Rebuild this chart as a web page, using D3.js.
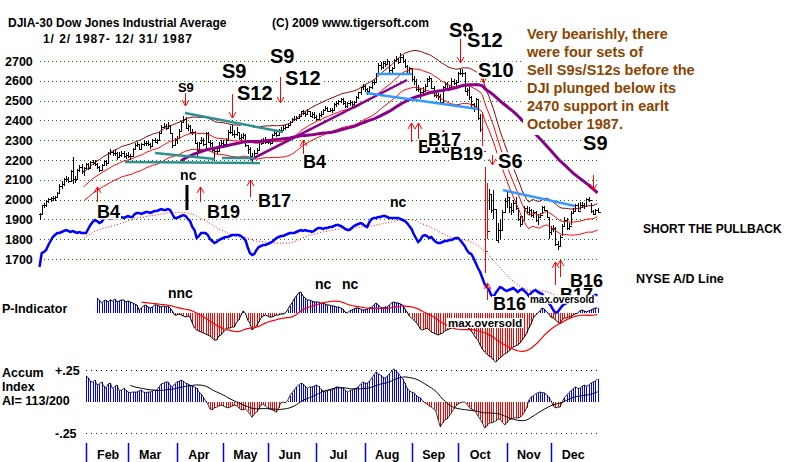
<!DOCTYPE html>
<html><head><meta charset="utf-8">
<script src="https://cdn.jsdelivr.net/npm/d3@7"></script>
<style>body{margin:0;background:#fff}svg{display:block}text{font-family:"Liberation Sans",Arial,sans-serif;font-weight:bold}</style>
</head><body><svg id="c" width="800" height="462"></svg>
<script>
// ---------- DATA ----------
const closes = [
1927,1971,1975,1994,2002,2006,2009,2013,2035,2070,2077,2102,2104,2094,2146,2102,2102,2150,2163,2146,2158,
2179,2158,2191,2186,2180,2167,2151,2177,2193,2183,2237,2238,2236,2235,2217,2227,2237,2222,2224,
2220,2220,2258,2276,2280,2258,2280,2287,2286,2281,2269,2301,2293,2299,2334,2369,2373,2363,2372,2335,2278,2305,
2313,2348,2390,2406,2360,2371,2339,2339,2287,2252,2286,2301,2283,2337,2292,2285,2250,2243,2245,2275,2286,
2280,2300,2342,2342,2333,2329,2340,2311,2318,2324,2275,2254,2221,2211,2236,2250,2292,2287,2300,2291,
2293,2287,2326,2338,2326,2351,2353,2360,2368,2377,2391,2408,2407,2413,2420,2445,2436,2430,2446,2423,2433,2418,
2409,2429,2430,2452,2464,2449,2455,2453,2482,2486,2496,2510,2487,2475,2488,2493,2485,2492,2519,2541,2567,2572,
2557,2546,2567,2594,2592,2636,2681,2669,2691,2685,2700,2655,2665,2706,2709,2697,2722,2701,2676,2639,2663,
2610,2599,2561,2561,2545,2549,2576,2608,2613,2566,2530,2527,2524,2493,2568,2585,2566,2570,2601,2590,2596,
2639,2641,2640,2549,2552,2517,2482,2472,2508,2413,2356,2246,1739,1841,2028,1950,1951,1794,1846,1847,1938,1994,
2014,1963,1945,1985,1959,1900,1878,1899,1960,1935,1949,1922,1939,1895,1913,1923,1963,1947,1911,1834,
1849,1857,1777,1767,1812,1868,1898,1855,1867,1932,1943,1974,1941,1975,1974,1969,2005,1996,1942,1926,1950,1938];
const highs = [
1930,1975,1985,1998,2010,2015,2020,2020,2040,2080,2095,2110,2120,2115,2150,2215,2120,2155,2175,2180,2165,
2185,2185,2195,2200,2200,2185,2170,2180,2200,2200,2240,2255,2250,2250,2240,2240,2245,2245,2235,
2240,2230,2262,2285,2290,2280,2285,2300,2295,2295,2285,2305,2310,2305,2340,2375,2385,2380,2390,2375,2330,2310,
2320,2355,2395,2420,2415,2380,2375,2355,2345,2290,2290,2315,2310,2340,2340,2300,2290,2260,2265,2290,2300,
2300,2310,2350,2370,2375,2350,2365,2340,2330,2335,2330,2275,2265,2235,2250,2260,2295,2305,2310,2315,
2305,2305,2330,2345,2345,2355,2365,2375,2375,2385,2395,2412,2420,2420,2430,2450,2455,2445,2460,2450,2440,2440,
2425,2435,2445,2460,2475,2470,2465,2465,2490,2500,2505,2515,2515,2500,2495,2505,2500,2500,2525,2545,2570,2585,
2580,2565,2575,2600,2610,2640,2690,2695,2700,2700,2710,2700,2670,2710,2725,2715,2740,2730,2710,2680,2670,
2665,2625,2610,2580,2565,2570,2585,2615,2625,2615,2575,2545,2540,2535,2575,2595,2595,2580,2615,2610,2605,
2645,2660,2660,2645,2565,2570,2525,2490,2515,2505,2430,2440,2165,2085,2055,2030,2050,1950,1880,1900,1950,2010,
2050,2010,1985,2000,2015,1960,1915,1915,1970,1970,1965,1955,1945,1940,1920,1930,1970,1970,1945,1910,
1865,1870,1860,1790,1820,1875,1910,1905,1880,1940,1960,1980,1985,1990,1990,1985,2010,2015,1985,1950,1955,1960];
const lows = [
1895,1925,1960,1965,1985,1990,1995,1995,2010,2030,2055,2070,2090,2085,2090,2080,2085,2100,2140,2130,2120,
2150,2150,2155,2175,2170,2155,2140,2145,2170,2170,2185,2225,2220,2220,2200,2210,2215,2210,2205,
2210,2200,2220,2255,2265,2250,2250,2270,2270,2270,2255,2265,2285,2280,2295,2330,2360,2350,2360,2330,2260,2270,
2280,2310,2340,2385,2355,2345,2330,2325,2280,2215,2245,2280,2270,2250,2285,2265,2240,2195,2230,2240,2265,
2265,2270,2295,2330,2320,2310,2320,2300,2295,2305,2265,2230,2210,2190,2205,2230,2250,2275,2280,2280,
2280,2275,2280,2320,2315,2320,2340,2345,2350,2360,2370,2385,2395,2395,2405,2415,2425,2415,2425,2415,2410,2405,
2395,2405,2415,2425,2445,2440,2440,2435,2450,2470,2480,2490,2480,2465,2465,2475,2470,2475,2490,2510,2530,2555,
2545,2530,2540,2560,2580,2590,2635,2655,2660,2670,2680,2640,2635,2660,2695,2685,2695,2690,2665,2630,2630,
2600,2580,2550,2545,2510,2535,2545,2570,2595,2560,2520,2515,2505,2485,2490,2560,2560,2550,2570,2580,2575,
2595,2630,2620,2545,2525,2505,2465,2440,2465,2400,2340,2200,1630,1800,1945,1930,1900,1790,1780,1800,1840,1930,
1960,1930,1920,1930,1950,1890,1860,1870,1900,1925,1920,1910,1905,1885,1870,1905,1925,1940,1905,1800,
1820,1835,1765,1745,1765,1815,1860,1845,1845,1870,1925,1935,1935,1945,1960,1955,1965,1990,1930,1920,1925,1930];
// NYSE A/D line (relative units)
const adLine = [
33,47,48,50,55,59,63,65,67,67, 68,69,70,69,68,69,68,67,68,67, 67,67,71,75,78,80,79,77,78,81,
83,82,81,82,82,82,82,83,82,83, 84,83,83,86,87,87,86,87,88,88, 87,88,89,89,90,91,90,90,91,90,
86,82,82,83,84,85,84,81,79,73, 70,62,64,67,67,67,65,61,59,57, 58,60,61,62,63,63,64,65,65,65,
65,64,62,60,53,47,45,46,50,53, 54,55,55,56,57,58,60,62,63,64, 64,65,66,67,67,67,68,69,70,69,
70,69,69,68,69,71,72,72,71,72, 72,73,73,74,75,75,74,73,71,70, 70,72,74,75,76,77,76,74,73,78,
81,82,82,83,83,84,84,83,82,82, 82,82,82,81,80,79,77,74,71,66, 62,58,60,64,65,64,62,63,60,58,
57,57,58,59,59,60,60,61,62,62, 60,57,54,50,47,46,42,37,32,28, 22,16,13,10,5,3,7,10,13,12,
10,9,10,11,12,10,8,10,11,9, 7,4,7,9,10,8,7,6,3,0, -3,-6,-10,-13,-12,-9,-6,-4,-3,-2,
-1,0,1,0,1,2,3,3,4,4, 5,5,5];
const pStart = 26;
const pIndicator = [
75,65,50,60,65,55,65,60,70,55, 60,65,65,55,60,55,50,45,40,15, 25,35,40,30,25,30,40,40,35,30,
35,30,35,25,10,-10,-10,-5,-10,-15, -20,-15,-20,-50,-75,-85,-90,-95,-100,-105,
-110,-115,-125,-135,-135,-115,-110,-95,-85,-75, -75,-70,-70,-45,-35,-10,10,0,-35,-50,
-85,-75,-65,-45,-25,-15,-10,-15,-20,-20, -15,-10,-10,-5,-5,0,15,35,50,70,
85,100,105,85,75,65,65,60,55,55, 55,50,50,45,40,40,35,35,30,30, 25,20,5,0,10,15,20,25,25,20,
15,15,20,25,30,40,50,40,30,25, 30,30,40,50,55,50,50,45,40,20, 5,-15,-25,-35,-45,-60,-80,-85,-80,-75,
-85,-95,-100,-105,-110,-105,-100,-90,-85,-80, -75,-75,-70,-70,-65,-65,-60,-70,-80,-90,
-105,-125,-135,-160,-180,-195,-205,-215,-220,-235, -245,-235,-225,-215,-205,-200,-190,-180,-170,-165,
-160,-150,-135,-120,-100,-75,-55,-25,-10,0, 10,25,20,5,-5,-20,-25,-35,-45,-50,
-35,-25,-25,-20,-20,-10,-5,0,10,15, 10,5,10,15,20,25,25];
const aStart = 21;
const accumIndex = [
.20,.19,.16,.155,.17,.13,.14,.155,.12,.105, .14,.145,.10,.12,.13,.085,.09,.105,.09,.075,
.07,.075,.075,.075,.085,.09,.075,.07,.075,.075, .085,.09,.09,.115,.14,.145,.155,.155,.13,.115,
.14,.155,.16,.17,.16,.145,.14,.13,.12,.115, .105,.075,.06,.035,.005,-.02,-.06,-.065,-.05,-.045,
-.035,-.03,-.035,-.045,-.05,-.045,-.035,-.03,-.035,-.05, -.065,-.065,-.06,-.075,-.1,-.125,-.1,-.085,-.06,-.03,
-.02,-.035,-.05,-.06,-.065,-.075,-.085,-.05,-.01,-.005, -.01,.005,.045,.07,.09,.115,.13,.145,.14,.12,
.105,.115,.115,.12,.13,.12,.10,.085,.075,.085, .09,.09,.10,.115,.115,.105,.105,.09,.075,.085,
.09,.10,.105,.115,.14,.155,.145,.145,.16,.185, .21,.235,.22,.21,.195,.185,.20,.22,.24,.26,
.24,.225,.20,.18,.145,.105,.085,.075,.07,.05, .035,.03,.005,-.01,-.02,-.035,-.045,-.06,-.075,-.145,
-.2,-.17,-.145,-.14,-.115,-.09,-.06,-.035,-.02,-.01, -.005,-.005,-.02,-.045,-.06,-.065,-.085,-.115,-.14,-.17,
-.21,-.195,-.17,-.17,-.165,-.155,-.14,-.14,-.165,-.185, -.17,-.145,-.14,-.13,-.13,-.13,-.125,-.11,-.085,-.05,
.01,.035,.045,.06,.07,.075,.07,.07,.05,.035, .005,-.035,-.05,-.045,-.045,-.005,.03,.05,.07,.085,
.10,.115,.105,.105,.12,.13,.12,.13,.145,.155, .16,.18];
const priceTicks = [1700,1800,1900,2000,2100,2200,2300,2400,2500,2600,2700];
const monthLabels = ["Feb","Mar","Apr","May","Jun","Jul","Aug","Sep","Oct","Nov","Dec"];
const monthStarts = [21,40,62,83,103,125,147,168,189,211,231];
const aiTicks = [0.25,-0.25];
const aiTickLabels = ["+.25","-.25"];
// signal labels: day index, price level
const priceLabels = [
 {t:"S9",d:62.5,v:2543,s:13},{t:"S9",d:82.4,v:2614,s:20},{t:"S12",d:89.2,v:2503,s:20},
 {t:"S9",d:104.1,v:2690,s:20},{t:"S12",d:110.9,v:2579,s:20},{t:"S9",d:184.9,v:2821,s:20},
 {t:"S12",d:193.1,v:2771,s:20},{t:"S10",d:198.0,v:2619,s:20},{t:"S6",d:207.1,v:2160,s:20},
 {t:"S9",d:245.5,v:2250,s:20},{t:"B4",d:26.0,v:1907,s:18},{t:"B19",d:75.6,v:1907,s:18},
 {t:"B17",d:98.7,v:1963,s:18},{t:"B4",d:119.0,v:2160,s:18},{t:"B16",d:170.9,v:2235,s:18},
 {t:"B17",d:175.4,v:2271,s:18},{t:"B19",d:185.4,v:2200,s:18},{t:"B16",d:204.8,v:1442,s:18},
 {t:"B16",d:239.6,v:1559,s:18},{t:"B17",d:235.1,v:1488,s:18},{t:"nc",d:63.5,v:2099,s:14},
 {t:"nc",d:158.3,v:1963,s:14},{t:"max.oversold",d:221.5,v:1478,s:10}];
const piLabels = [{t:"nnc",d:58.0,v:75,s:14},{t:"nc",d:124.4,v:120,s:14},{t:"nc",d:136.6,v:120,s:14},
 {t:"max.oversold",d:184.5,v:-70,s:11.5}];
const sellArrows = [[65.7,2538,2473],[86.9,2533,2412],[108.6,2619,2488],[189.9,2816,2690],[200.3,2634,2589],[204.4,2225,2175],[250,2124,2048]];
const buyArrows = [[26,2064,1988],[72.5,2064,1988],[95.1,2099,2013],[119,2301,2220],[167.8,2387,2291],[171,2387,2291],[182.2,2351,2291],[202.1,1579,1493],[232.8,1685,1569],[235.1,1695,1609]];
const ncMarks = [[66.6,2074,1947]];
const tealLines = [[65.7,2437,110,2341],[52.2,2235,79.3,2205],[82.4,2210,97.3,2210],[38.6,2190,99.6,2185]];
const purpleLines = [[95.1,2200,166,2604]];
const blueLines = [[152.4,2634,168.2,2634],[147.5,2538,198,2458],[209.3,2048,241.8,1968]];
const commentLines = ["Very bearishly, there","were four sets of","Sell S9s/S12s before the","DJI plunged below its","2470 support in earlt","October 1987."];

// ---------- CHART ----------
const svg = d3.select("#c");
svg.append("rect").attr("width",800).attr("height",462).attr("fill","#fff");
const N = closes.length;
const x = d3.scaleLinear().domain([0,252]).range([39.5,597.5]);
const y = d3.scaleLinear().domain([1700,2700]).range([259,61]);
const adY = d3.scaleLinear().domain([0,100]).range([300,200]);
const piY = d3.scaleLinear().domain([-300,300]).range([373,253]);
const aiY = d3.scaleLinear().domain([-0.25,0.25]).range([433,370]);
const px = i => Math.round(x(i))+0.5;
const sma = (a,n) => a.map((v,i)=> i<n-1 ? null : d3.mean(a.slice(i-n+1,i+1)));

// grid
const grid = svg.append("g");
priceTicks.forEach(t=>{
  const yy = Math.round(y(t))+0.5;
  grid.append("line").attr("x1",40).attr("x2",600).attr("y1",yy).attr("y2",yy)
    .attr("stroke","#008000").attr("stroke-dasharray","1,3");
  grid.append("text").attr("x",5).attr("y",y(t)+4.5).attr("font-size",12.5).text(t);
});

// bars
const bars = svg.append("g").attr("shape-rendering","crispEdges");
closes.forEach((c,i)=>{
  const col = (highs[i]-lows[i])>200 ? "#ff0000" : "#000";
  const xx = px(i);
  bars.append("line").attr("x1",xx).attr("x2",xx).attr("y1",y(highs[i])).attr("y2",y(lows[i])).attr("stroke",col);
  const o = i>0 ? closes[i-1] : c;
  bars.append("line").attr("x1",xx-2).attr("x2",xx).attr("y1",Math.round(y(o))+0.5).attr("y2",Math.round(y(o))+0.5).attr("stroke",col);
  bars.append("line").attr("x1",xx).attr("x2",xx+2.5).attr("y1",Math.round(y(c))+0.5).attr("y2",Math.round(y(c))+0.5).attr("stroke",col);
});

// moving averages and bands
const ma21 = sma(closes,21), ma65 = sma(closes,65);
const lineGen = (sc)=> d3.line().defined(d=>d[1]!=null).x(d=>x(d[0])).y(d=>sc(d[1]));
const lp = lineGen(y);
svg.append("path").attr("d",lp(ma21.map((v,i)=>[i,v==null?null:v*1.035]))).attr("fill","none").attr("stroke","#8b0000").attr("stroke-width",1);
svg.append("path").attr("d",lp(ma21.map((v,i)=>[i,v]))).attr("fill","none").attr("stroke","#ff0000").attr("stroke-width",1);
svg.append("path").attr("d",lp(ma21.map((v,i)=>[i,v==null?null:v*0.965]))).attr("fill","none").attr("stroke","#ff0000").attr("stroke-width",1);
svg.append("path").attr("d",lp(ma65.map((v,i)=>[i,v]))).attr("fill","none").attr("stroke","#8b008b").attr("stroke-width",3);

const seg = (arr,col,w)=>arr.forEach(s=>svg.append("line").attr("x1",x(s[0])).attr("y1",y(s[1])).attr("x2",x(s[2])).attr("y2",y(s[3])).attr("stroke",col).attr("stroke-width",w));
seg(purpleLines,"#8b008b",2.5);
seg(tealLines,"#2e9090",2.5);
seg(blueLines,"#3399ff",2.5);

// A/D line
const adMA = sma(adLine,21);
svg.append("path").attr("d",lineGen(adY)(adMA.map((v,i)=>[i,v]))).attr("fill","none").attr("stroke","#ff0000").attr("stroke-dasharray","1,2");
svg.append("path").attr("d",lineGen(adY)(adLine.map((v,i)=>[i,v]))).attr("fill","none").attr("stroke","#0000ff").attr("stroke-width",2.5);

// P-Indicator
const pg = svg.append("g").attr("shape-rendering","crispEdges");
pIndicator.forEach((v,k)=>{
  const i = k+pStart;
  pg.append("line").attr("x1",px(i)).attr("x2",px(i)).attr("y1",piY(0)).attr("y2",piY(v)).attr("stroke",v>=0?"#0000ff":"#ff0000");
});
svg.append("path").attr("d",lineGen(piY)(pIndicator.map((v,k)=>[k+pStart,v]))).attr("fill","none").attr("stroke","#000").attr("stroke-width",1);
svg.append("path").attr("d",lineGen(piY)(sma(pIndicator,21).map((v,k)=>[k+pStart,v]))).attr("fill","none").attr("stroke","#ff0000").attr("stroke-width",1.2);

// Accum index
aiTicks.forEach((t,j)=>{
  const yy = Math.round(aiY(t))+0.5;
  svg.append("line").attr("x1",86).attr("x2",600).attr("y1",yy).attr("y2",yy).attr("stroke",j==0?"#000":"#800000").attr("stroke-dasharray","1,4");
  svg.append("text").attr("x",55).attr("y",aiY(t)+5).attr("font-size",12.5).text(aiTickLabels[j]);
});
const ag = svg.append("g").attr("shape-rendering","crispEdges");
accumIndex.forEach((v,k)=>{
  const i = k+aStart;
  ag.append("line").attr("x1",px(i)).attr("x2",px(i)).attr("y1",aiY(0)).attr("y2",aiY(v)).attr("stroke",v>=0?"#0000ff":"#ff0000");
});
svg.append("path").attr("d",lineGen(aiY)(accumIndex.map((v,k)=>[k+aStart,v]))).attr("fill","none").attr("stroke","#000").attr("stroke-width",0.8);
svg.append("path").attr("d",lineGen(aiY)(sma(accumIndex,21).map((v,k)=>[k+aStart,v]))).attr("fill","none").attr("stroke","#000").attr("stroke-width",1);

// months
monthStarts.forEach((m,j)=>{
  svg.append("line").attr("x1",px(m)).attr("x2",px(m)).attr("y1",443).attr("y2",462).attr("stroke","#0000ff").attr("stroke-width",1.5);
  svg.append("text").attr("x",x(m+10)).attr("y",459).attr("text-anchor","middle").attr("font-size",12.5).text(monthLabels[j]);
});

// arrows
const ar = svg.append("g").attr("stroke","#ff0000").attr("fill","none");
sellArrows.forEach(a=>{
  const xx=px(a[0]), y1=y(a[1]), y2=y(a[2]);
  ar.append("path").attr("d",`M${xx},${y1}V${y2}M${xx-3.5},${y2-6}L${xx},${y2}L${xx+3.5},${y2-6}`);
});
buyArrows.forEach(a=>{
  const xx=px(a[0]), y1=y(a[1]), y2=y(a[2]);
  ar.append("path").attr("d",`M${xx},${y2}V${y1}M${xx-3.5},${y1+6}L${xx},${y1}L${xx+3.5},${y1+6}`);
});
ncMarks.forEach(a=>svg.append("line").attr("x1",x(a[0])).attr("x2",x(a[0])).attr("y1",y(a[1])).attr("y2",y(a[2])).attr("stroke","#000").attr("stroke-width",3));

// labels with white background
function label(g,t,xx,yy,s,fill){
  const bg = g.append("rect").attr("fill","#fff");
  const tx = g.append("text").attr("x",xx).attr("y",yy).attr("font-size",s).attr("fill",fill||"#000").text(t);
  const b = tx.node().getBBox();
  bg.attr("x",b.x-1).attr("y",yy-s*0.78).attr("width",b.width+2).attr("height",s*0.86);
  return tx;
}
const lg = svg.append("g");
priceLabels.forEach(l=>label(lg,l.t,x(l.d),y(l.v),l.s));
piLabels.forEach(l=>label(lg,l.t,x(l.d),piY(l.v),l.s));

// titles and side text
svg.append("text").attr("x",8).attr("y",27).attr("font-size",12).text("DJIA-30  Dow Jones Industrial Average");
svg.append("text").attr("x",43).attr("y",43).attr("font-size",12).attr("textLength",149).attr("lengthAdjust","spacing").text("1/ 2/ 1987- 12/ 31/ 1987");
svg.append("text").attr("x",272).attr("y",27).attr("font-size",12).text("(C) 2009 www.tigersoft.com");
const cg = svg.append("g");
const cbg = cg.append("rect").attr("fill","#fff");
let maxW = 0;
commentLines.forEach((t,j)=>{
  const tx = cg.append("text").attr("x",527).attr("y",39+j*18).attr("font-size",14.5).attr("fill","#8a4500").text(t);
  maxW = Math.max(maxW, tx.node().getBBox().width);
});
cbg.attr("x",523).attr("y",25).attr("width",maxW+8).attr("height",110);
svg.append("text").attr("x",643).attr("y",233).attr("font-size",12).text("SHORT THE PULLBACK");
svg.append("text").attr("x",636).attr("y",283).attr("font-size",12.5).text("NYSE A/D Line");
svg.append("text").attr("x",2).attr("y",313).attr("font-size",12.5).text("P-Indicator");
svg.append("text").attr("x",2).attr("y",377).attr("font-size",12.5).text("Accum");
svg.append("text").attr("x",2).attr("y",391).attr("font-size",12.5).text("Index");
svg.append("text").attr("x",2).attr("y",405).attr("font-size",12.5).text("AI= 113/200");
</script></body></html>
